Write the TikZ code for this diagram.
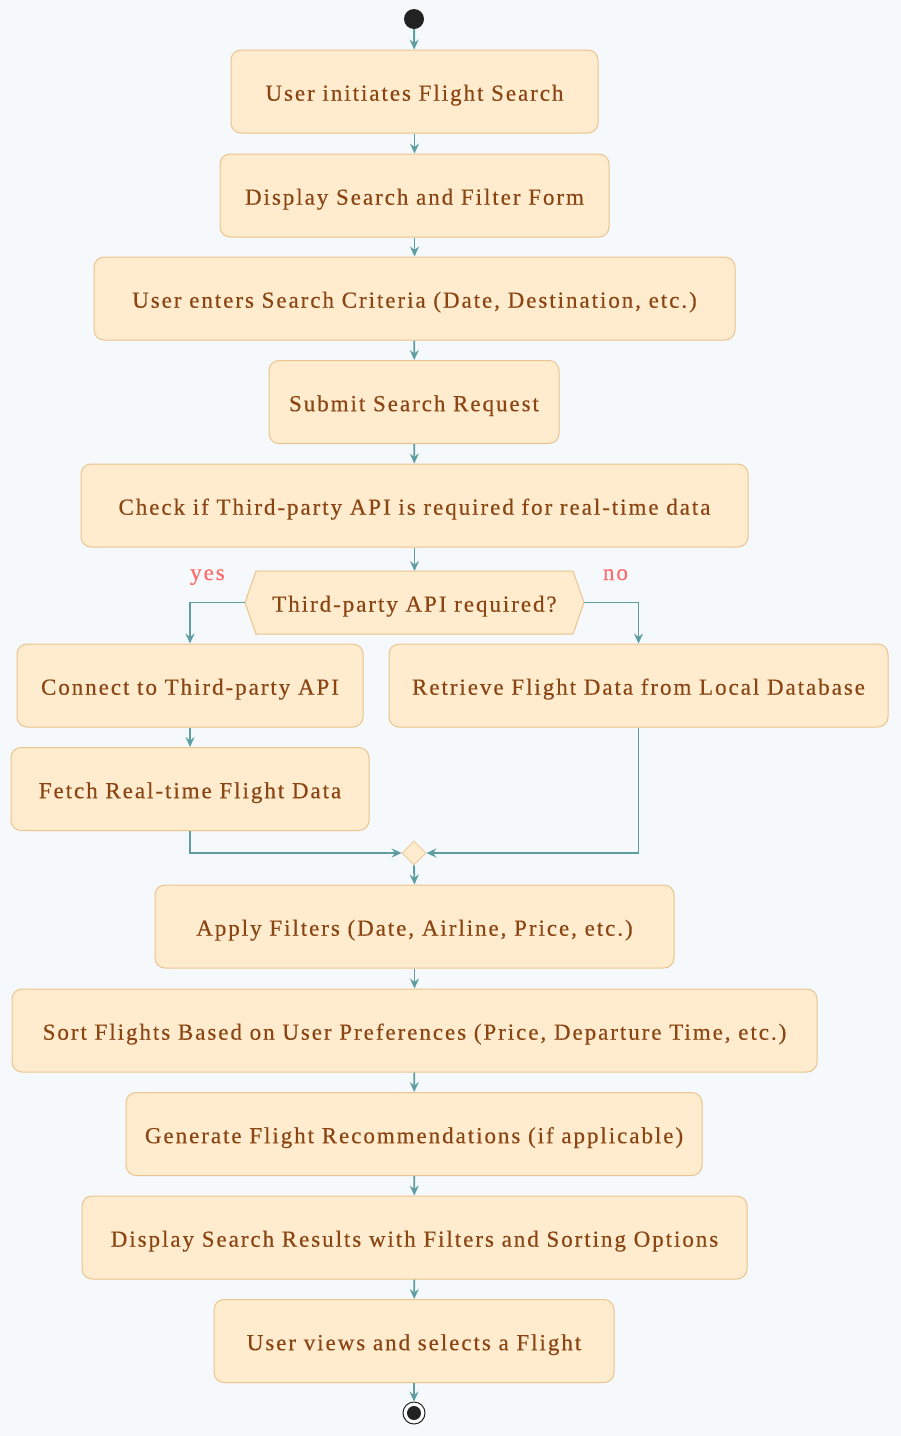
\documentclass[tikz,border=0pt]{standalone}
\usepackage{fontspec}
\usetikzlibrary{arrows.meta,shapes.geometric}
\newfontfamily\boxfont{Liberation Serif}[LetterSpace=8.5,FakeBold=0.4]
\definecolor{bgc}{RGB}{245,249,252}
\definecolor{boxfill}{RGB}{255,235,205}
\definecolor{boxline}{RGB}{234,196,142}
\definecolor{txt}{RGB}{139,69,19}
\definecolor{arr}{RGB}{95,158,160}
\definecolor{lbl}{RGB}{255,107,107}
\definecolor{dark}{RGB}{34,34,34}
\begin{document}
\begin{tikzpicture}[x=1pt,y=-1pt,
  bfont/.style={font=\boxfont\fontsize{23}{27}\selectfont},
  actbox/.style={draw=boxline, fill=boxfill, line width=1pt, rounded corners=10pt,
    minimum height=83pt, inner sep=0pt, text=txt, bfont,
    text height=22.4pt, text depth=4pt},
  flow/.style={draw=arr, line width=1.9pt, -{Stealth[length=10pt,width=9pt,inset=3.5pt]}},
  lab/.style={text=lbl, bfont, inner sep=0pt, anchor=base}]
\fill[bgc] (0,0) rectangle (901,1436);
\useasboundingbox (0,0) rectangle (901,1436);

\node[circle, fill=dark, minimum size=20pt, inner sep=0pt] (start) at (414,19) {};
\node[actbox, minimum width=367pt] (b1) at (414.5,91.5) {User initiates Flight Search};
\node[actbox, minimum width=389pt] (b2) at (414.5,195.5) {Display Search and Filter Form};
\node[actbox, minimum width=641pt] (b3) at (414.5,298.5) {User enters Search Criteria (Date, Destination, etc.)};
\node[actbox, minimum width=290pt] (b4) at (414,402) {Submit Search Request};
\node[actbox, minimum width=667pt] (b5) at (414.5,505.5) {Check if Third-party API is required for real-time data};
\coordinate (dec) at (414.5,602.5);
\coordinate (decN) at (414.5,571);
\coordinate (decW) at (245,602.5);
\coordinate (decE) at (584,602.5);
\fill[boxfill, draw=boxline, line width=1pt] (decW) -- (256,571) -- (573,571) -- (decE) -- (573,634) -- (256,634) -- cycle;
\node[text=txt, bfont, inner sep=0pt, text height=22.4pt, text depth=4pt] (dectext) at (dec) {Third-party API required?};
\node[actbox, minimum width=346pt] (conn) at (190,685.5) {Connect to Third-party API};
\node[actbox, minimum width=499pt] (retr) at (638.5,685.5) {Retrieve Flight Data from Local Database};
\node[actbox, minimum width=358pt] (fetch) at (190,789) {Fetch Real-time Flight Data};
\node[diamond, draw=boxline, fill=boxfill, line width=0.8pt, minimum size=24pt, inner sep=0pt] (merge) at (414,853) {};
\node[actbox, minimum width=519pt] (apply) at (414.5,926.5) {Apply Filters (Date, Airline, Price, etc.)};
\node[actbox, minimum width=805pt] (sort) at (414.5,1030.5) {Sort Flights Based on User Preferences (Price, Departure Time, etc.)};
\node[actbox, minimum width=576pt] (gen) at (414,1134) {Generate Flight Recommendations (if applicable)};
\node[actbox, minimum width=665pt] (disp) at (414.5,1237.5) {Display Search Results with Filters and Sorting Options};
\node[actbox, minimum width=400pt] (views) at (414,1341) {User views and selects a Flight};
\node[circle, draw=dark, fill=white, line width=1pt, minimum size=22pt, inner sep=0pt] (endo) at (414,1413) {};
\node[circle, fill=dark, minimum size=14pt, inner sep=0pt] (endi) at (414,1413) {};

\node[lab] (yes) at (207.5,580) {yes};
\node[lab] (no) at (615.5,580) {no};

\draw[flow] (start) -- (b1);
\draw[flow] (b1) -- (b2);
\draw[flow] (b2) -- (b3);
\draw[flow] (b3) -- (b4);
\draw[flow] (b4) -- (b5);
\draw[flow] (b5.south) -- (decN);
\draw[flow] (decW) -| (conn.north);
\draw[flow] (decE) -| (retr.north);
\draw[flow] (conn) -- (fetch);
\draw[flow] (fetch.south) |- (merge.west);
\draw[flow] (retr.south) |- (merge.east);
\draw[flow] (merge.south) -- (apply.north);
\draw[flow] (apply) -- (sort);
\draw[flow] (sort) -- (gen);
\draw[flow] (gen) -- (disp);
\draw[flow] (disp) -- (views);
\draw[flow] (views) -- (endo);
\end{tikzpicture}
\end{document}
